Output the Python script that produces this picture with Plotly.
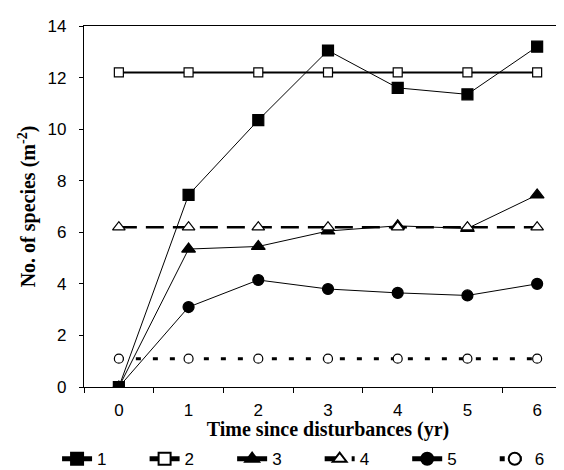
import plotly.graph_objects as go

years = ["0", "1", "2", "3", "4", "5", "6"]
names = ["1", "2", "3", "4", "5", "6"]

s1 = [0, 7.45, 10.35, 13.05, 11.6, 11.35, 13.2]
s2 = [12.2, 12.2, 12.2, 12.2, 12.2, 12.2, 12.2]
s3 = [0, 5.35, 5.45, 6.05, 6.25, 6.15, 7.45]
s4 = [6.2, 6.2, 6.2, 6.2, 6.2, 6.2, 6.2]
s5 = [0, 3.1, 4.15, 3.8, 3.65, 3.55, 4.0]
s6 = [1.1, 1.1, 1.1, 1.1, 1.1, 1.1, 1.1]

series = [s1, s2, s3, s4, s5, s6]

styles = [
    dict(line=dict(color="black", width=1), symbol="square", fill="black", size=11),
    dict(line=dict(color="black", width=2), symbol="square", fill="white", size=9),
    dict(line=dict(color="black", width=1), symbol="triangle-up", fill="black", size=12),
    dict(line=dict(color="black", width=2.5, dash="18px,9px"), symbol="triangle-up", fill="white", size=11),
    dict(line=dict(color="black", width=1), symbol="circle", fill="black", size=11),
    dict(line=dict(color="black", width=3, dash="5px,12px"), symbol="circle", fill="white", size=9),
]

# pad legend labels so the entries spread across the bottom like the original
pad = "\u00a0" * 7

fig = go.Figure()
for i, (name, vals, st) in enumerate(zip(names, series, styles)):
    fig.add_trace(go.Scatter(
        x=years, y=vals, name=name + (pad if i < len(names) - 1 else ""),
        mode="lines+markers",
        line=st["line"],
        marker=dict(symbol=st["symbol"], color=st["fill"], size=st["size"],
                    line=dict(color="black", width=1.2)),
    ))

fig.update_layout(
    width=564, height=470,
    margin=dict(l=76, r=0, t=18, b=91),
    plot_bgcolor="white", paper_bgcolor="white",
    font=dict(family="Liberation Sans, Arial", size=17, color="black"),
    showlegend=True,
    legend=dict(orientation="h", xref="container", yref="container",
                x=0.087, xanchor="left", y=0.04, yanchor="middle",
                font=dict(size=17), itemsizing="constant", tracegroupgap=0),
)

fig.update_xaxes(
    type="category", range=[-0.5, 6.5],
    tickson="boundaries", ticks="outside", ticklen=5, tickcolor="black",
    ticklabelstandoff=7,
    showline=True, linecolor="black", linewidth=1.2, mirror=True,
    showgrid=False, zeroline=False,
    title=dict(text="<b>Time since disturbances (yr)</b>",
               font=dict(family="Liberation Serif, Times New Roman", size=20), standoff=8),
)
fig.update_yaxes(
    range=[0, 14], dtick=2, ticks="outside", ticklen=4, tickcolor="black",
    ticklabelstandoff=9,
    showline=True, linecolor="black", linewidth=1.2,
    showgrid=False, zeroline=False,
    title=dict(text="<b>No. of species (m<sup>-2</sup>)</b>",
               font=dict(family="Liberation Serif, Times New Roman", size=20), standoff=6),
)

fig.write_html("out.html")
